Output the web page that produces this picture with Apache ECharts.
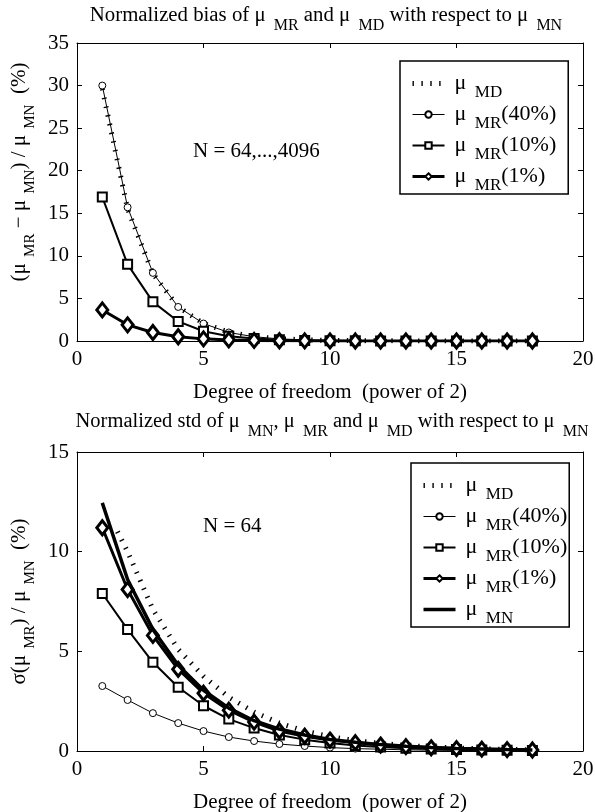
<!DOCTYPE html>
<html>
<head>
<meta charset="utf-8">
<script src="https://cdn.jsdelivr.net/npm/echarts@6/dist/echarts.min.js"></script>
<style>
html, body { margin: 0; padding: 0; background: #fff; }
#main { width: 595px; height: 812px; }
</style>
</head>
<body>
<div id="main"></div>
<script>
// degree of freedom (power of 2)
var dof = [1, 2, 3, 4, 5, 6, 7, 8, 9, 10, 11, 12, 13, 14, 15, 16, 17, 18];

// top panel: normalized bias (%)
var biasMD  = [29.6, 15.5, 7.9, 4.0, 2.05, 1.05, 0.52, 0.27, 0.14, 0.07, 0.04, 0.02, 0.01, 0.01, 0, 0, 0, 0];
var bias40  = [30.0, 15.7, 8.0, 4.0, 2.05, 1.0, 0.5, 0.25, 0.13, 0.07, 0.03, 0.02, 0.01, 0.01, 0, 0, 0, 0];
var bias10  = [16.9, 9.0, 4.6, 2.3, 1.15, 0.57, 0.29, 0.15, 0.07, 0.04, 0.02, 0.01, 0.01, 0, 0, 0, 0, 0];
var bias1   = [3.65, 1.9, 1.0, 0.5, 0.25, 0.13, 0.07, 0.03, 0.02, 0.01, 0, 0, 0, 0, 0, 0, 0, 0];

// bottom panel: normalized std (%)
var stdMDx  = [1.6, 2, 3, 4, 5, 6, 7, 8, 9, 10, 11, 12, 13, 14, 15, 16, 17, 18];
var stdMD   = [11.0, 10.0, 7.1, 5.1, 3.75, 2.7, 1.95, 1.4, 1.0, 0.72, 0.52, 0.38, 0.28, 0.2, 0.15, 0.11, 0.08, 0.06];
var stdMN   = [12.45, 8.6, 6.1, 4.3, 3.05, 2.15, 1.52, 1.1, 0.8, 0.58, 0.44, 0.32, 0.24, 0.17, 0.13, 0.1, 0.07, 0.05];
var std1    = [11.2, 8.1, 5.8, 4.1, 2.9, 2.05, 1.45, 1.0, 0.74, 0.55, 0.42, 0.3, 0.22, 0.16, 0.12, 0.09, 0.07, 0.05];
var std10   = [7.9, 6.1, 4.45, 3.2, 2.27, 1.6, 1.15, 0.8, 0.57, 0.4, 0.28, 0.2, 0.14, 0.1, 0.07, 0.05, 0.035, 0.025];
var std40   = [3.26, 2.56, 1.9, 1.4, 1.0, 0.7, 0.5, 0.35, 0.25, 0.17, 0.12, 0.09, 0.06, 0.04, 0.03, 0.02, 0.015, 0.01];

var xMin = 0, xMax = 20, xStep = 5;
var biasMax = 35, stdMax = 15, yStep = 5;

var FONT = 'Liberation Serif';
var rich = {
	s: { fontFamily: FONT, fontSize: 15, color: '#000', lineHeight: 12, padding: [20, 0, 0, 1] }
};
var legendRich = {
	s: { fontFamily: FONT, fontSize: 17, color: '#000', lineHeight: 12, padding: [18, 0, 0, 3] }
};
var titleRich = {
	s: { fontFamily: FONT, fontSize: 16, color: '#000', lineHeight: 12, padding: [20, 0, 0, 3] }
};
var legendNames = {
	'MD': 'μ {s|MD}',
	'MR40': 'μ {s|MR}(40%)',
	'MR10': 'μ {s|MR}(10%)',
	'MR1': 'μ {s|MR}(1%)',
	'MN': 'μ {s|MN}'
};

function pairs(xs, ys) {
	var out = [];
	for (var i = 0; i < ys.length; i++) {
		out.push([xs[i], ys[i]]);
	}
	return out;
}

function xAxisCfg(grid, top) {
	return {
		type: 'value', gridIndex: grid, min: xMin, max: xMax, interval: xStep,
		position: top ? 'top' : 'bottom',
		name: top ? '' : 'Degree of freedom  (power of 2)',
		nameLocation: 'middle', nameGap: 41,
		nameTextStyle: { fontFamily: FONT, fontSize: 21, color: '#000' },
		axisLine: { show: true, onZero: false, lineStyle: { color: '#000', width: 1 } },
		axisTick: { show: true, inside: true, length: 5, lineStyle: { color: '#000' } },
		axisLabel: { show: !top, fontFamily: FONT, fontSize: 21, color: '#000', margin: 8 },
		splitLine: { show: false }
	};
}

function yAxisCfg(grid, max, right, name, pad) {
	return {
		type: 'value', gridIndex: grid, min: 0, max: max, interval: yStep,
		position: right ? 'right' : 'left',
		name: right ? '' : name,
		nameLocation: 'middle', nameGap: 46, nameRotate: 90,
		nameTextStyle: { fontFamily: FONT, fontSize: 21, color: '#000', lineHeight: 20, rich: rich, padding: pad },
		axisLine: { show: true, onZero: false, lineStyle: { color: '#000', width: 1 } },
		axisTick: { show: true, inside: true, length: 5, lineStyle: { color: '#000' } },
		axisLabel: { show: !right, fontFamily: FONT, fontSize: 21, color: '#000', margin: 8 },
		splitLine: { show: false }
	};
}

function mdSeries(idx, data) {
	return {
		name: 'MD', type: 'line', xAxisIndex: idx, yAxisIndex: idx, data: data,
		symbol: 'none', z: 2,
		lineStyle: { color: '#000', width: 5, type: [1.4, 7.5], cap: 'butt' },
		itemStyle: { color: '#000', opacity: 0 }
	};
}
function mr40Series(idx, data) {
	return {
		name: 'MR40', type: 'line', xAxisIndex: idx, yAxisIndex: idx, data: data,
		symbol: 'circle', symbolSize: 7, z: 3,
		lineStyle: { color: '#000', width: 1 },
		itemStyle: { color: '#fff', borderColor: '#000', borderWidth: 1 }
	};
}
function mr10Series(idx, data) {
	return {
		name: 'MR10', type: 'line', xAxisIndex: idx, yAxisIndex: idx, data: data,
		symbol: 'rect', symbolSize: 9, z: 4,
		lineStyle: { color: '#000', width: 2 },
		itemStyle: { color: '#fff', borderColor: '#000', borderWidth: 2 }
	};
}
function mr1Series(idx, data) {
	return {
		name: 'MR1', type: 'line', xAxisIndex: idx, yAxisIndex: idx, data: data,
		symbol: 'diamond', symbolSize: [11, 14], z: 5,
		lineStyle: { color: '#000', width: 3 },
		itemStyle: { color: '#fff', borderColor: '#000', borderWidth: 3 }
	};
}

function legendCfg(left, top, rightPad, names) {
	return {
		orient: 'vertical', left: left, top: top, data: names,
		itemWidth: 32, itemHeight: 8, itemGap: -4,
		padding: [5, rightPad, 0, 10],
		borderColor: '#000', borderWidth: 1.5, borderRadius: 0,
		backgroundColor: '#fff',
		lineStyle: { width: 'inherit' },
		formatter: function(n) { return legendNames[n]; },
		textStyle: { fontFamily: FONT, fontSize: 22, color: '#000', lineHeight: 20, rich: legendRich, padding: [0, 0, 0, 5] }
	};
}

var chart = echarts.init(document.getElementById('main'), null, { renderer: 'canvas' });
chart.setOption({
	animation: false,
	backgroundColor: '#fff',
	title: [{
		text: 'Normalized bias of μ {s|MR} and μ {s|MD} with respect to μ {s|MN}',
		left: 321, top: 1, textAlign: 'center',
		textStyle: { fontFamily: FONT, fontSize: 20.8, fontWeight: 'normal', color: '#000', lineHeight: 20, rich: titleRich }
	}, {
		text: 'Normalized std of μ {s|MN}, μ {s|MR} and μ {s|MD} with respect to μ {s|MN}',
		left: 327, top: 407, textAlign: 'center',
		textStyle: { fontFamily: FONT, fontSize: 20.5, fontWeight: 'normal', color: '#000', lineHeight: 20, rich: titleRich }
	}],
	grid: [
		{ left: 77, right: 12, top: 43, bottom: 471, outerBoundsMode: 'none' },
		{ left: 77, right: 12, top: 452, bottom: 61, outerBoundsMode: 'none' }
	],
	xAxis: [xAxisCfg(0, false), xAxisCfg(0, true), xAxisCfg(1, false), xAxisCfg(1, true)],
	yAxis: [
		yAxisCfg(0, biasMax, false, '(μ {s|MR} − μ {s|MN}) / μ {s|MN}  (%)', [0, 0, 0, 40]),
		yAxisCfg(0, biasMax, true),
		yAxisCfg(1, stdMax, false, 'σ(μ {s|MR}) / μ {s|MN}  (%)', [0, 0, 0, 0]),
		yAxisCfg(1, stdMax, true)
	],
	legend: [
		legendCfg(400, 61, 12, ['MD', 'MR40', 'MR10', 'MR1']),
		legendCfg(411, 463, 2, ['MD', 'MR40', 'MR10', 'MR1', 'MN'])
	],
	graphic: [
		{ type: 'text', left: 193, top: 141, style: { text: 'N = 64,...,4096', fontFamily: FONT, fontSize: 21, fill: '#000' } },
		{ type: 'text', left: 203, top: 516, style: { text: 'N = 64', fontFamily: FONT, fontSize: 21, fill: '#000' } }
	],
	series: [
		mdSeries(0, pairs(dof, biasMD)),
		mr40Series(0, pairs(dof, bias40)),
		mr10Series(0, pairs(dof, bias10)),
		mr1Series(0, pairs(dof, bias1)),
		mdSeries(2, pairs(stdMDx, stdMD)),
		mr40Series(2, pairs(dof, std40)),
		mr10Series(2, pairs(dof, std10)),
		mr1Series(2, pairs(dof, std1)),
		{
			name: 'MN', type: 'line', xAxisIndex: 2, yAxisIndex: 2, data: pairs(dof, stdMN),
			symbol: 'none', z: 6,
			lineStyle: { color: '#000', width: 3.5 },
			itemStyle: { color: '#000', opacity: 0 }
		}
	]
});
</script>
</body>
</html>
